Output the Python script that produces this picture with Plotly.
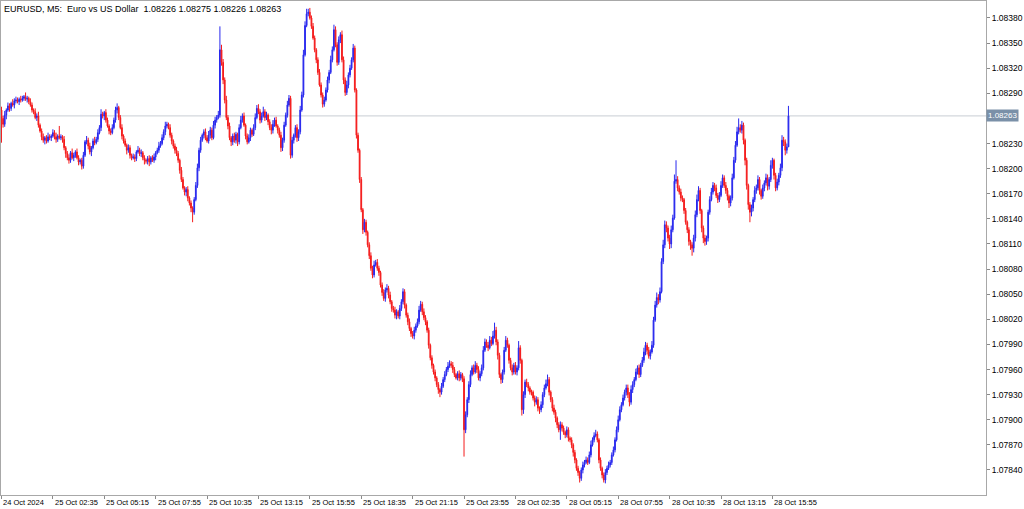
import plotly.graph_objects as go

# ---------------- data (prices in points: price = 1 + value * 1e-5) ----------------
symbol_text = "EURUSD, M5:  Euro vs US Dollar"
first_open = 8270

closes = [
    8260, 8253, 8264, 8270, 8275, 8272, 8278, 8276, 8281, 8282,
    8280, 8283, 8282, 8284, 8286, 8283, 8284, 8280, 8276, 8270,
    8268, 8261, 8263, 8252, 8245, 8238, 8234, 8237, 8233, 8238,
    8237, 8239, 8243, 8238, 8235, 8239, 8237, 8238, 8235, 8225,
    8218, 8213, 8210, 8219, 8213, 8216, 8220, 8213, 8208, 8210,
    8203, 8216, 8232, 8234, 8227, 8220, 8225, 8233, 8231, 8235,
    8243, 8249, 8265, 8263, 8267, 8258, 8251, 8245, 8243, 8249,
    8258, 8270, 8273, 8261, 8249, 8239, 8233, 8228, 8222, 8225,
    8216, 8213, 8214, 8212, 8220, 8222, 8218, 8219, 8213, 8210,
    8209, 8212, 8208, 8213, 8210, 8214, 8219, 8222, 8227, 8230,
    8237, 8244, 8251, 8253, 8249, 8240, 8233, 8227, 8222, 8218,
    8210, 8198, 8187, 8177, 8172, 8175, 8165, 8159, 8153, 8148,
    8163, 8180, 8201, 8222, 8234, 8240, 8244, 8237, 8233, 8240,
    8246, 8237, 8252, 8258, 8261, 8264, 8342, 8327, 8306, 8282,
    8261, 8251, 8237, 8232, 8239, 8234, 8241, 8232, 8249, 8258,
    8263, 8252, 8239, 8232, 8237, 8246, 8241, 8249, 8261, 8272,
    8268, 8258, 8263, 8268, 8261, 8264, 8256, 8249, 8246, 8253,
    8258, 8251, 8246, 8240, 8225, 8234, 8252, 8264, 8276, 8284,
    8216, 8234, 8240, 8249, 8237, 8244, 8270, 8288, 8336, 8371,
    8385, 8387, 8380, 8370, 8356, 8342, 8330, 8315, 8300, 8288,
    8277, 8282, 8294, 8306, 8315, 8330, 8342, 8366, 8348, 8327,
    8354, 8360, 8330, 8306, 8291, 8300, 8312, 8320, 8330, 8344,
    8294, 8240, 8222, 8187, 8151, 8127, 8136, 8124, 8109, 8096,
    8081, 8073, 8085, 8088, 8081, 8076, 8061, 8052, 8045, 8055,
    8057, 8049, 8041, 8033, 8031, 8025, 8029, 8024, 8033, 8041,
    8053, 8037, 8025, 8017, 8009, 8003, 8000, 8007, 8012, 8017,
    8031, 8038, 8029, 8022, 8017, 8007, 7989, 7974, 7965, 7957,
    7950, 7942, 7936, 7933, 7940, 7948, 7954, 7960, 7964, 7967,
    7965, 7960, 7954, 7950, 7955, 7950, 7954, 7949, 7888, 7906,
    7924, 7942, 7954, 7962, 7957, 7965, 7960, 7950, 7955, 7962,
    7983, 7993, 7989, 7986, 7995, 7991, 8000, 8007, 7993, 7977,
    7954, 7948, 7957, 7983, 7995, 7989, 7971, 7962, 7957, 7965,
    7957, 7962, 7986, 7971, 7912, 7930, 7945, 7942, 7938, 7933,
    7933, 7926, 7921, 7924, 7914, 7912, 7918, 7930, 7938, 7943,
    7948, 7933, 7924, 7914, 7909, 7902, 7894, 7888, 7894, 7890,
    7885, 7882, 7888, 7878, 7876, 7870, 7861, 7852, 7842, 7837,
    7830, 7840, 7846, 7849, 7852, 7849, 7858, 7870, 7876, 7881,
    7883, 7876, 7852, 7842, 7834, 7828, 7837, 7842, 7846, 7849,
    7858, 7864, 7876, 7888, 7900, 7912, 7918, 7926, 7933, 7938,
    7930, 7921, 7936, 7942, 7948, 7957, 7962, 7954, 7965, 7971,
    7981, 7989, 7983, 7976, 7981, 7989, 8019, 8037, 8046, 8043,
    8053, 8089, 8109, 8133, 8129, 8117, 8110, 8127, 8141, 8185,
    8187, 8177, 8172, 8165, 8163, 8150, 8136, 8127, 8113, 8109,
    8105, 8117, 8145, 8163, 8174, 8150, 8129, 8117, 8113, 8117,
    8148, 8163, 8172, 8180, 8177, 8168, 8163, 8168, 8180, 8189,
    8180, 8174, 8167, 8159, 8165, 8189, 8210, 8228, 8244, 8249,
    8246, 8252, 8234, 8210, 8180, 8157, 8148, 8153, 8163, 8174,
    8177, 8187, 8174, 8167, 8177, 8183, 8189, 8179, 8187, 8204,
    8210, 8192, 8177, 8184, 8192, 8201, 8234, 8232, 8222, 8226, 8263,
]

up_wick = [
    4, 3, 5, 2, 4, 3, 2, 5, 3, 4,  3, 2, 4, 3, 2, 5, 3, 2, 4, 3,
    2, 4, 3, 5, 2, 3, 4, 2, 3, 5,  3, 2, 4, 3, 5, 2, 12, 3, 2, 4,
    2, 3, 4, 2, 5, 3, 2, 4, 3, 2,  3, 4, 2, 5, 3, 4, 2, 3, 5, 3,
    4, 3, 6, 3, 2, 4, 3, 2, 3, 4,  3, 4, 5, 2, 3, 4, 2, 3, 2, 4,
    3, 2, 4, 3, 2, 5, 3, 4, 2, 3,  2, 3, 4, 2, 3, 4, 2, 3, 5, 3,
    4, 3, 5, 3, 2, 4, 3, 2, 3, 4,  3, 2, 4, 3, 2, 3, 4, 2, 3, 2,
    3, 4, 5, 3, 4, 2, 3, 4, 3, 5,  4, 3, 5, 4, 3, 5, 28, 6, 4, 3,
    5, 3, 4, 2, 3, 4, 3, 2, 4, 5,  3, 4, 2, 3, 4, 3, 2, 4, 5, 4,
    5, 3, 4, 6, 3, 4, 2, 3, 4, 5,  3, 4, 2, 3, 4, 3, 4, 3, 5, 4,
    3, 4, 2, 3, 4, 3, 5, 4, 6, 5,  6, 4, 5, 3, 4, 3, 2, 3, 4, 3,
    3, 4, 3, 4, 3, 5, 4, 6, 4, 3,  4, 3, 5, 4, 3, 5, 3, 4, 3, 5,
    3, 2, 3, 2, 3, 2, 4, 3, 2, 3,  4, 3, 5, 3, 4, 3, 2, 3, 4, 3,
    5, 3, 4, 2, 3, 4, 3, 2, 4, 3,  4, 3, 2, 3, 4, 2, 3, 4, 3, 4,
    5, 4, 3, 4, 3, 2, 3, 2, 3, 2,  3, 2, 3, 2, 4, 3, 4, 3, 5, 4,
    3, 4, 3, 2, 3, 4, 3, 2, 3, 4,  3, 4, 5, 3, 4, 5, 3, 4, 3, 4,
    5, 4, 3, 4, 5, 4, 6, 9, 4, 3,  3, 2, 3, 4, 5, 3, 2, 3, 4, 3,
    4, 3, 8, 3, 2, 4, 3, 4, 3, 2,  3, 2, 3, 4, 3, 2, 4, 3, 4, 5,
    6, 3, 2, 3, 4, 3, 2, 3, 4, 3,  3, 2, 4, 3, 2, 3, 2, 3, 2, 3,
    2, 3, 4, 3, 4, 3, 4, 5, 3, 4,  5, 3, 2, 3, 2, 3, 4, 3, 4, 3,
    3, 4, 3, 4, 5, 4, 3, 4, 3, 4,  4, 3, 5, 4, 3, 4, 3, 4, 3, 4,
    5, 4, 3, 4, 3, 5, 4, 5, 6, 4,  5, 4, 6, 5, 4, 3, 4, 5, 4, 8,
    23, 4, 3, 4, 3, 2, 3, 2, 3, 2,  3, 4, 5, 6, 5, 3, 2, 3, 4, 3,
    3, 4, 5, 4, 3, 4, 3, 4, 5, 4,  3, 4, 3, 2, 3, 5, 4, 5, 6, 11,
    4, 5, 3, 2, 3, 2, 3, 4, 3, 5,  4, 5, 3, 2, 4, 3, 5, 4, 3, 6,
    3, 2, 3, 4, 3, 5, 6, 4, 3, 4, 12,
]

down_wick = [
    29, 4, 3, 5, 2, 4, 3, 2, 4, 3,  2, 4, 3, 2, 3, 2, 4, 3, 2, 3,
    3, 2, 4, 3, 2, 4, 3, 5, 3, 2,  3, 4, 2, 3, 4, 3, 2, 3, 4, 3,
    5, 3, 4, 3, 2, 4, 3, 2, 4, 3,  4, 3, 2, 3, 4, 3, 5, 2, 3, 2,
    3, 2, 4, 3, 5, 3, 2, 4, 3, 2,  2, 3, 4, 3, 2, 4, 3, 2, 5, 3,
    4, 3, 2, 4, 3, 2, 3, 4, 3, 5,  3, 4, 5, 3, 2, 3, 4, 2, 3, 2,
    2, 3, 4, 3, 2, 3, 4, 3, 4, 3,  3, 4, 3, 2, 4, 5, 4, 3, 5, 12,
    3, 2, 3, 4, 3, 2, 4, 3, 2, 3,  4, 3, 2, 4, 3, 2, 3, 4, 5, 4,
    3, 4, 3, 5, 4, 3, 4, 5, 3, 2,  3, 2, 4, 3, 2, 4, 3, 2, 3, 2,
    3, 4, 3, 2, 4, 3, 4, 3, 5, 4,  3, 2, 4, 3, 5, 4, 3, 2, 3, 2,
    4, 3, 4, 3, 5, 4, 3, 2, 3, 2,  2, 3, 2, 3, 2, 3, 4, 3, 2, 3,
    4, 3, 2, 3, 4, 2, 3, 2, 3, 4,  3, 4, 3, 5, 4, 3, 4, 3, 2, 3,
    3, 4, 3, 4, 3, 5, 3, 4, 3, 4,  3, 4, 3, 2, 3, 4, 3, 4, 3, 4,
    3, 4, 3, 4, 3, 4, 5, 3, 4, 3,  3, 4, 3, 4, 3, 4, 3, 4, 3, 2,
    3, 2, 4, 3, 4, 3, 4, 3, 4, 3,  4, 3, 5, 6, 3, 2, 3, 2, 3, 2,
    3, 4, 3, 2, 3, 4, 3, 4, 32, 4,  3, 4, 3, 2, 3, 2, 4, 3, 4, 3,
    3, 2, 3, 4, 2, 3, 2, 3, 4, 5,  4, 5, 4, 3, 2, 3, 4, 3, 4, 3,
    3, 4, 3, 4, 7, 5, 4, 3, 4, 3,  4, 3, 5, 3, 4, 5, 3, 4, 3, 2,
    3, 4, 3, 4, 3, 5, 4, 3, 12, 4,  3, 4, 3, 4, 3, 4, 5, 4, 3, 4,
    5, 3, 4, 3, 2, 3, 2, 3, 2, 3,  2, 3, 4, 3, 4, 3, 4, 3, 2, 3,
    3, 2, 3, 2, 3, 2, 3, 2, 3, 4,  4, 5, 3, 4, 3, 2, 3, 4, 3, 2,
    3, 4, 5, 3, 4, 2, 3, 2, 3, 5,  3, 2, 3, 4, 5, 4, 6, 5, 3, 2,
    3, 4, 3, 4, 3, 4, 3, 4, 5, 6,  9, 5, 4, 3, 2, 4, 5, 6, 5, 4,
    4, 3, 2, 3, 4, 3, 4, 3, 2, 3,  3, 4, 5, 6, 4, 3, 2, 3, 2, 3,
    3, 4, 5, 6, 5, 6, 12, 5, 4, 3,  4, 3, 5, 4, 3, 4, 3, 5, 4, 3,
    4, 5, 4, 3, 4, 3, 4, 5, 6, 4, 0,
]

time_labels = [
    "24 Oct 2024", "25 Oct 02:35", "25 Oct 05:15", "25 Oct 07:55",
    "25 Oct 10:35", "25 Oct 13:15", "25 Oct 15:55", "25 Oct 18:35",
    "25 Oct 21:15", "25 Oct 23:55", "28 Oct 02:35", "28 Oct 05:15",
    "28 Oct 07:55", "28 Oct 10:35", "28 Oct 13:15", "28 Oct 15:55",
]
bars_per_label = 32

price_ticks = [
    1.08380, 1.08350, 1.08320, 1.08290, 1.08230, 1.08200, 1.08170, 1.08140,
    1.08110, 1.08080, 1.08050, 1.08020, 1.07990, 1.07960, 1.07930, 1.07900,
    1.07870, 1.07840,
]

# ---------------- build OHLC ----------------
def to_price(v):
    return round(1 + v * 1e-5, 5)

n = len(closes)
opens_pts = [first_open] + closes[:-1]
highs_pts = [max(o, c) + u for o, c, u in zip(opens_pts, closes, up_wick)]
lows_pts = [min(o, c) - d for o, c, d in zip(opens_pts, closes, down_wick)]

o = [to_price(v) for v in opens_pts]
h = [to_price(v) for v in highs_pts]
l = [to_price(v) for v in lows_pts]
c = [to_price(v) for v in closes]
x = list(range(n))

last_o, last_h, last_l, last_c = o[-1], h[-1], l[-1], c[-1]

FONT = "Tahoma, 'Liberation Sans', Arial, sans-serif"
BULL = "#2828ee"
BEAR = "#f41c1c"

fig = go.Figure(go.Candlestick(
    x=x, open=o, high=h, low=l, close=c,
    increasing=dict(line=dict(color=BULL, width=1), fillcolor=BULL),
    decreasing=dict(line=dict(color=BEAR, width=1), fillcolor=BEAR),
    whiskerwidth=0, hoverinfo="skip", showlegend=False,
))

# current price line
fig.add_shape(type="line", xref="paper", x0=0, x1=1, yref="y", y0=last_c, y1=last_c,
              line=dict(color="#c8cdd4", width=1), layer="below")

# price box on the axis
fig.add_annotation(xref="paper", x=1, yref="y", y=last_c, xanchor="left", yanchor="middle",
                   text=f"{last_c:.5f}", showarrow=False, bgcolor="#7a90a8",
                   font=dict(family=FONT, size=8, color="white"), borderpad=1, xshift=0)

# header
fig.add_annotation(xref="paper", x=0, yref="paper", y=1, xanchor="left", yanchor="top",
                   text=f"{symbol_text}  {last_o:.5f} {last_h:.5f} {last_l:.5f} {last_c:.5f}",
                   showarrow=False, xshift=1, yshift=-1,
                   font=dict(family=FONT, size=9, color="black"))

# time labels (left-aligned at tick, like the terminal)
tick_pos = [i * bars_per_label for i in range(len(time_labels))]
for pos, lab in zip(tick_pos, time_labels):
    fig.add_annotation(xref="x", x=pos, yref="paper", y=0, xanchor="left", yanchor="top",
                       text=lab, showarrow=False, xshift=0, yshift=-1,
                       font=dict(family=FONT, size=7.5, color="black"))

fig.update_layout(
    width=1024, height=509,
    margin=dict(l=1, r=38, t=1, b=14),
    paper_bgcolor="white", plot_bgcolor="white",
    showlegend=False,
    xaxis=dict(range=[-0.3, 613.0], tickvals=tick_pos, showticklabels=False,
               ticks="outside", ticklen=3, tickcolor="#8a8a8a",
               showline=True, linecolor="#a8a8a8", linewidth=1, mirror=True,
               showgrid=False, zeroline=False, rangeslider=dict(visible=False),
               fixedrange=True),
    yaxis=dict(range=[1.078101, 1.084003], side="right", tickvals=price_ticks,
               ticktext=[f"{t:.5f}" for t in price_ticks],
               ticks="outside", ticklen=3, tickcolor="#8a8a8a",
               tickfont=dict(family=FONT, size=8.5, color="black"),
               showline=True, linecolor="#a8a8a8", linewidth=1, mirror=True,
               showgrid=False, zeroline=False, fixedrange=True),
)

fig.write_html("out.html", config={"displayModeBar": False},
               post_script="document.body.style.margin='0px';document.body.style.overflow='hidden';")
